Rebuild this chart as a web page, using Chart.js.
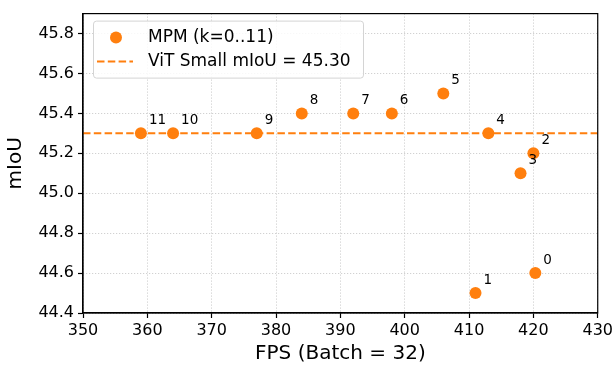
<!DOCTYPE html>
<html>
<head>
<meta charset="utf-8">
<script src="https://cdn.jsdelivr.net/npm/chart.js@4.4.1/dist/chart.umd.min.js"></script>
<style>
  html, body { margin: 0; padding: 0; background: #fff; }
  #wrap { width: 616px; height: 368px; }
</style>
</head>
<body>
<div id="wrap"><canvas id="chart"></canvas></div>
<script>
  // ── Data ────────────────────────────────────
  var pointLabels = ["0", "1", "2", "3", "4", "5", "6", "7", "8", "9", "10", "11"];
  var fpsValues = [420.3, 411, 420, 418, 413, 406, 398, 392, 384, 377, 364, 359];
  var miouValues = [44.6, 44.5, 45.2, 45.1, 45.3, 45.5, 45.4, 45.4, 45.4, 45.3, 45.3, 45.3];
  var baselineMiou = 45.3;
  var xTicks = [350, 360, 370, 380, 390, 400, 410, 420, 430];
  var yTicks = [44.4, 44.6, 44.8, 45.0, 45.2, 45.4, 45.6, 45.8];
  var seriesName = "MPM (k=0..11)";
  var baselineName = "ViT Small mIoU = 45.30";

  var ORANGE = "#ff7f0e";
  var FONT = "'DejaVu Sans', sans-serif";

  // annotate each point with its k index
  var pointLabelPlugin = {
    id: "pointLabels",
    afterDatasetsDraw: function (chart) {
      var ctx = chart.ctx;
      var meta = chart.getDatasetMeta(1);
      ctx.save();
      ctx.font = "13.5px " + FONT;
      ctx.fillStyle = "#000";
      ctx.textAlign = "left";
      ctx.textBaseline = "bottom";
      meta.data.forEach(function (el, i) {
        ctx.fillText(pointLabels[i], el.x + 8, el.y - 6);
      });
      ctx.restore();
    },
  };

  // top/right spines + legend box inside the plot
  var framePlugin = {
    id: "frame",
    afterDraw: function (chart) {
      var ctx = chart.ctx;
      var a = chart.chartArea;
      ctx.save();
      ctx.strokeStyle = "#000";
      ctx.lineWidth = 1.2;
      ctx.strokeRect(a.left, a.top, a.right - a.left, a.bottom - a.top);

      // legend
      var lx = a.left + 10, ly = a.top + 7, lw = 270, lh = 57;
      ctx.beginPath();
      ctx.roundRect(lx + 0.5, ly + 0.5, lw, lh, 3);
      ctx.fillStyle = "rgba(255,255,255,0.85)";
      ctx.fill();
      ctx.strokeStyle = "#d4d4d4";
      ctx.lineWidth = 1;
      ctx.stroke();

      ctx.beginPath();
      ctx.arc(lx + 23, ly + 17, 6, 0, Math.PI * 2);
      ctx.fillStyle = ORANGE;
      ctx.fill();

      ctx.beginPath();
      ctx.setLineDash([7.5, 3.3]);
      ctx.strokeStyle = ORANGE;
      ctx.lineWidth = 2;
      ctx.moveTo(lx + 4, ly + 41);
      ctx.lineTo(lx + 40, ly + 41);
      ctx.stroke();
      ctx.setLineDash([]);

      ctx.font = "17px " + FONT;
      ctx.fillStyle = "#000";
      ctx.textAlign = "left";
      ctx.textBaseline = "middle";
      ctx.fillText(seriesName, lx + 55, ly + 17);
      ctx.fillText(baselineName, lx + 55, ly + 41);
      ctx.restore();
    },
  };

  var points = fpsValues.map(function (x, i) {
    return { x: x, y: miouValues[i] };
  });

  new Chart(document.getElementById("chart"), {
    type: "scatter",
    data: {
      datasets: [
        {
          type: "line",
          label: baselineName,
          data: [
            { x: xTicks[0], y: baselineMiou },
            { x: xTicks[xTicks.length - 1], y: baselineMiou },
          ],
          borderColor: ORANGE,
          borderWidth: 2,
          borderDash: [7.5, 3.3],
          pointRadius: 0,
          fill: false,
        },
        {
          label: seriesName,
          data: points,
          backgroundColor: ORANGE,
          borderColor: ORANGE,
          pointRadius: 6,
          pointHoverRadius: 6,
          borderWidth: 0,
        },
      ],
    },
    options: {
      responsive: true,
      maintainAspectRatio: false,
      animation: false,
      layout: { padding: { top: 10, right: 18, left: 0, bottom: 0 } },
      plugins: {
        legend: { display: false },
        tooltip: { enabled: false },
      },
      scales: {
        x: {
          type: "linear",
          min: xTicks[0],
          max: xTicks[xTicks.length - 1],
          afterBuildTicks: function (scale) {
            scale.ticks = xTicks.map(function (v) { return { value: v }; });
          },
          afterFit: function (scale) { scale.height = 55; },
          ticks: {
            font: { family: FONT, size: 16 },
            color: "#000",
            padding: 3,
            maxRotation: 0,
            autoSkip: false,
          },
          grid: {
            color: "rgba(180,180,180,0.75)",
            lineWidth: 1,
            tickLength: 5,
            tickColor: "#000",
            tickWidth: 1.2,
          },
          border: { display: true, color: "#000", width: 1.2, dash: [1, 2] },
          title: {
            display: true,
            text: "FPS (Batch = 32)",
            font: { family: FONT, size: 20 },
            color: "#000",
            padding: { top: 0, bottom: 2 },
          },
        },
        y: {
          type: "linear",
          min: 44.4,
          max: 45.9,
          afterBuildTicks: function (scale) {
            scale.ticks = yTicks.map(function (v) { return { value: v }; });
          },
          afterFit: function (scale) { scale.width = 83; },
          ticks: {
            font: { family: FONT, size: 16 },
            color: "#000",
            padding: 4,
            callback: function (v) { return v.toFixed(1); },
          },
          grid: {
            color: "rgba(180,180,180,0.75)",
            lineWidth: 1,
            tickLength: 5,
            tickColor: "#000",
            tickWidth: 1.2,
          },
          border: { display: true, color: "#000", width: 1.2, dash: [1, 2] },
          title: {
            display: true,
            text: "mIoU",
            font: { family: FONT, size: 20 },
            color: "#000",
            padding: { top: 4, bottom: 0 },
          },
        },
      },
    },
    plugins: [pointLabelPlugin, framePlugin],
  });
</script>
</body>
</html>
